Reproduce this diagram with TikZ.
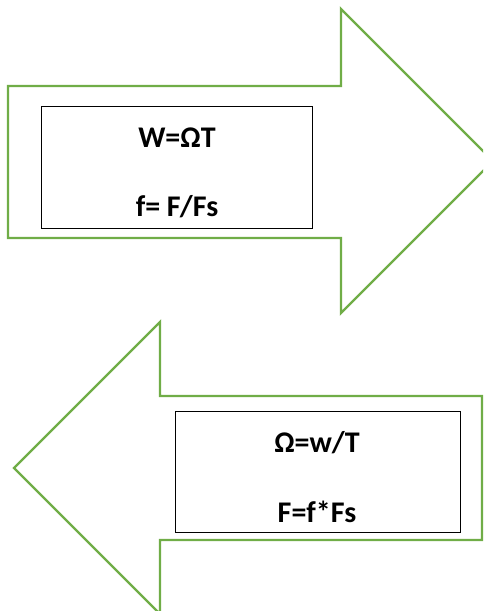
\documentclass[tikz,border=0pt]{standalone}
\usepackage{fontspec}
\setmainfont{Carlito}
\definecolor{arrowgreen}{HTML}{70AD47}
\tikzset{
  bigarrow/.style={draw=arrowgreen, line width=2.4pt, fill=white, line join=miter},
  formbox/.style={draw=black, line width=1pt, fill=white},
  formula/.style={font=\bfseries\fontsize{30}{33}\selectfont, anchor=base, inner sep=0pt}
}
\begin{document}
\begin{tikzpicture}[x=1pt, y=-1pt]
  \useasboundingbox (0,0) rectangle (483,611);
  \clip (0,0) rectangle (483,611);

  % right-pointing block arrow
  \draw[bigarrow] (8,86) -- (341,86) -- (341,9) -- (493,161) -- (341,313)
    -- (341,238) -- (8,238) -- cycle;
  % left-pointing block arrow
  \draw[bigarrow] (482,396) -- (160,396) -- (160,322) -- (14,468) -- (160,614)
    -- (160,540) -- (482,540) -- cycle;

  % formula boxes
  \draw[formbox] (41,106) rectangle (312,228);
  \draw[formbox] (175,411) rectangle (460,532);

  \node[formula] (w1) at (177,147) {W=ΩT};
  \node[formula] (f1) at (177,216) {f= F/Fs};
  \node[formula] (w2) at (317,452) {Ω=w/T};
  \node[formula] (f2) at (317,522) {F=f*Fs};
\end{tikzpicture}
\end{document}
